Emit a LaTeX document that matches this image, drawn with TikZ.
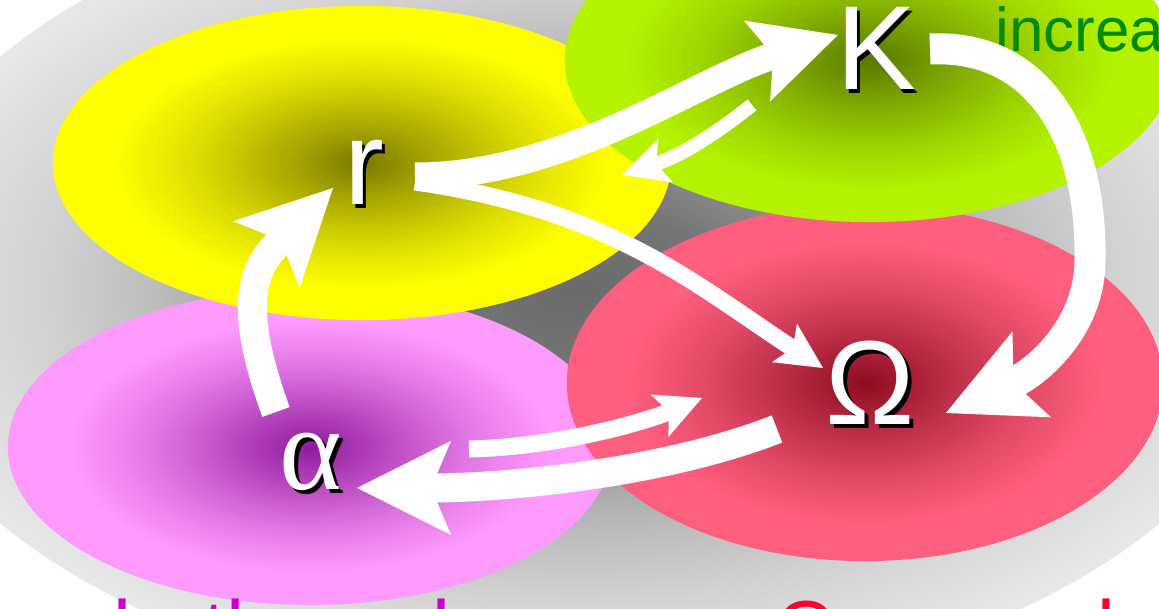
\documentclass[tikz,border=0pt]{standalone}
\usepackage{fontspec}
\setmainfont{Liberation Sans}
\newfontfamily\serifgreek{Liberation Serif}
\usetikzlibrary{arrows.meta,shapes.geometric}

\definecolor{yelC}{HTML}{7A7A00}
\definecolor{yelE}{HTML}{FFFF00}
\definecolor{grnC}{HTML}{5A7800}
\definecolor{grnE}{HTML}{B4F200}
\definecolor{redC}{HTML}{8E0C22}
\definecolor{redE}{HTML}{FF5F7F}
\definecolor{magC}{HTML}{901A9C}
\definecolor{magE}{HTML}{FF9BFF}
\definecolor{incGreen}{HTML}{008C00}
\definecolor{botMag}{HTML}{CC00CC}
\definecolor{botRed}{HTML}{FF0033}

% backdrop glow and the four coloured blobs
\pgfdeclareradialshading{bgglow}{\pgfpoint{0bp}{0bp}}{color(0bp)=(black!58); color(5bp)=(black!54); color(15bp)=(black!26); color(20bp)=(black!16); color(25bp)=(black!9); color(50bp)=(black!9)}
\newcommand{\blobshade}[3]{\pgfdeclareradialshading{#1}{\pgfpoint{0bp}{0bp}}{color(0bp)=(#2); color(6bp)=(#2!65!#3); color(13bp)=(#2!28!#3); color(20bp)=(#3); color(50bp)=(#3)}}
\blobshade{yblob}{yelC}{yelE}
\blobshade{gblob}{grnC}{grnE}
\blobshade{rblob}{redC}{redE}
\blobshade{mblob}{magC}{magE}

% white letter with a black drop shadow
\newcommand{\shd}[1]{\rlap{\kern1.1pt\raisebox{-1.1pt}{\color{black}#1}}#1}

\begin{document}
\begin{tikzpicture}[x=0.01cm,y=0.01cm,
blob/.style={ellipse,inner sep=0pt,shade},
lab/.style={inner sep=0pt,anchor=base,text=white,font=\fontsize{34}{40}\selectfont},
fatarr/.style={white,line width=0.29cm},
slimarr/.style={white,line width=0.17cm},
bigtip/.style={-{Stealth[length=0.94cm,width=0.94cm,inset=0.2cm,line width=0pt]}},
midtip/.style={-{Stealth[length=0.85cm,width=0.85cm,inset=0.17cm,line width=0pt]}},
smalltip/.style={-{Stealth[length=0.46cm,width=0.46cm,inset=0.1cm,line width=0pt]}}]
\useasboundingbox (0,0) rectangle (1159,609);
\clip (0,0) rectangle (1159,609);
\fill[white] (0,0) rectangle (1159,609);

\node[blob,shading=bgglow,minimum width=14.12cm,minimum height=8.16cm] (bg) at (580,319) {};
\node[blob,shading=mblob,minimum width=6.04cm,minimum height=3.16cm] (mag) at (310,162) {};
\node[blob,shading=yblob,minimum width=6.18cm,minimum height=3.14cm] (yel) at (362,446) {};
\node[blob,shading=rblob,minimum width=5.96cm,minimum height=3.56cm] (red) at (865,226) {};
\node[blob,shading=gblob,minimum width=6.10cm,minimum height=3.24cm] (grn) at (870,549) {};

\node[lab] (r) at (364,404) {\shd{r}};
\node[lab] (K) at (876,519) {\shd{K}};
\node[lab] (Om) at (870,184) {\shd{Ω}};
\node[lab,font=\serifgreek\fontsize{34}{40}\selectfont] (al) at (311,119) {\shd{α}};

\node[anchor=base west,inner sep=0pt,text=incGreen,font=\fontsize{17.6}{20}\selectfont] (inc) at (995,557) {increase};
\node[anchor=base west,inner sep=0pt,text=botMag,font=\fontsize{23}{26}\selectfont] (lowtxt) at (113,-49) {both are low};
\node[anchor=base west,inner sep=0pt,text=botRed,font=\fontsize{23}{26}\selectfont] (omtxt) at (776,-49) {Ω grows back};

% arrows
\draw[fatarr,bigtip] ([shift={(-35,78)}]al.base) .. controls +(-40,110) and +(-80,-80) .. ([shift={(-31,17)}]r.base);
\draw[fatarr,line width=0.27cm,midtip] ([shift={(51,29)}]r.base) .. controls +(150,0) and +(-143,-46) .. ([shift={(-38,55)}]K.base);
\draw[slimarr,line width=0.14cm,smalltip] ([shift={(-124,-15)}]K.base) to[bend left=10] ([shift={(258,30)}]r.base);
\draw[slimarr,smalltip] ([shift={(51,23)}]r.base) .. controls +(198,-28) and +(-126,82) .. ([shift={(-47,57)}]Om.base);
\draw[fatarr,line width=0.31cm,bigtip] ([shift={(54,41)}]K.base) .. controls +(110,5) and +(2,121) .. ([shift={(214,-170)}]K.base) .. controls +(0,-69) and +(89,40) .. ([shift={(76,12)}]Om.base);
\draw[fatarr,bigtip] ([shift={(-93,-4)}]Om.base) .. controls +(-112,-44) and +(150,0) .. ([shift={(46,2)}]al.base);
\draw[slimarr,smalltip] ([shift={(158,41)}]al.base) .. controls +(91,2) and +(-55,-23) .. ([shift={(-168,27)}]Om.base);
\end{tikzpicture}
\end{document}
